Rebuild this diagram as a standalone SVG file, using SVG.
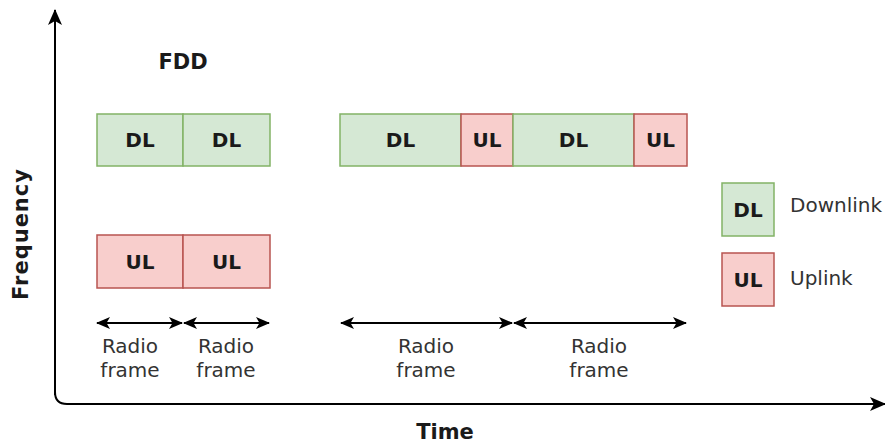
<svg xmlns="http://www.w3.org/2000/svg" width="885" height="445" viewBox="0 0 885 445">
  <style>
    .dl { fill: #d5e8d4; stroke: #82b366; stroke-width: 1.5; }
    .ul { fill: #f8cecc; stroke: #b85450; stroke-width: 1.5; }
    .lbl { font-family: "DejaVu Sans", Verdana, sans-serif; font-weight: bold; font-size: 20px; fill: #1a1a1a; text-anchor: middle; }
    .txt { font-family: "DejaVu Sans", Verdana, sans-serif; font-size: 20px; fill: #333333; }
    .mid { text-anchor: middle; }
    .title { font-family: "DejaVu Sans", Verdana, sans-serif; font-weight: bold; font-size: 21px; fill: #1a1a1a; text-anchor: middle; }
    .axis { fill: none; stroke: #000; stroke-width: 2; }
    .span { fill: none; stroke: #000; stroke-width: 2; marker-start: url(#head); marker-end: url(#head); }
  </style>
  <defs>
    <marker id="head" viewBox="0 0 14 12" refX="13" refY="6" markerWidth="14" markerHeight="12" markerUnits="userSpaceOnUse" orient="auto-start-reverse">
      <path d="M0,0 L14,6 L0,12 L3.5,6 Z" fill="#000"/>
    </marker>
    <marker id="axhead" viewBox="0 0 16 14" refX="15" refY="7" markerWidth="16" markerHeight="14" markerUnits="userSpaceOnUse" orient="auto">
      <path d="M0,0 L16,7 L0,14 L4,7 Z" fill="#000"/>
    </marker>
  </defs>

  <!-- axes -->
  <g id="axes">
    <path class="axis" d="M55,395 L55,10" marker-end="url(#axhead)"/>
    <path class="axis" d="M55,392 Q55,404 67,404 L885,404" marker-end="url(#axhead)"/>
    <text class="title" x="445" y="439">Time</text>
    <text class="title" transform="translate(28,234) rotate(-90)" letter-spacing="1">Frequency</text>
  </g>

  <text id="fdd-title" class="title" x="183" y="69">FDD</text>

  <!-- FDD: downlink carrier -->
  <g id="fdd-dl-1">
    <rect class="dl" x="97" y="114" width="86" height="52"/>
    <text class="lbl" x="140" y="147">DL</text>
  </g>
  <g id="fdd-dl-2">
    <rect class="dl" x="183" y="114" width="87" height="52"/>
    <text class="lbl" x="226.5" y="147">DL</text>
  </g>

  <!-- FDD: uplink carrier -->
  <g id="fdd-ul-1">
    <rect class="ul" x="97" y="235" width="86" height="53"/>
    <text class="lbl" x="140" y="268.5">UL</text>
  </g>
  <g id="fdd-ul-2">
    <rect class="ul" x="183" y="235" width="87" height="53"/>
    <text class="lbl" x="226.5" y="268.5">UL</text>
  </g>

  <!-- TDD: shared carrier -->
  <g id="tdd-dl-1">
    <rect class="dl" x="340" y="114" width="121" height="52"/>
    <text class="lbl" x="400.5" y="147">DL</text>
  </g>
  <g id="tdd-ul-1">
    <rect class="ul" x="461" y="114" width="52" height="52"/>
    <text class="lbl" x="487" y="147">UL</text>
  </g>
  <g id="tdd-dl-2">
    <rect class="dl" x="513" y="114" width="121" height="52"/>
    <text class="lbl" x="573.5" y="147">DL</text>
  </g>
  <g id="tdd-ul-2">
    <rect class="ul" x="634" y="114" width="53" height="52"/>
    <text class="lbl" x="660.5" y="147">UL</text>
  </g>

  <!-- legend -->
  <g id="legend-dl">
    <rect class="dl" x="722" y="183" width="52" height="53"/>
    <text class="lbl" x="748" y="216.5">DL</text>
    <text class="txt" x="790" y="212">Downlink</text>
  </g>
  <g id="legend-ul">
    <rect class="ul" x="722" y="253" width="52" height="53"/>
    <text class="lbl" x="748" y="286.5">UL</text>
    <text class="txt" x="790" y="285">Uplink</text>
  </g>

  <!-- radio frame spans -->
  <g id="connectors">
    <line class="span" x1="97" y1="323" x2="182" y2="323"/>
    <line class="span" x1="184" y1="323" x2="269" y2="323"/>
    <line class="span" x1="341" y1="323" x2="512" y2="323"/>
    <line class="span" x1="514" y1="323" x2="686" y2="323"/>
  </g>

  <g id="frame-labels">
    <text class="txt mid" x="130" y="353">Radio</text>
    <text class="txt mid" x="130" y="377">frame</text>
    <text class="txt mid" x="226" y="353">Radio</text>
    <text class="txt mid" x="226" y="377">frame</text>
    <text class="txt mid" x="426" y="353">Radio</text>
    <text class="txt mid" x="426" y="377">frame</text>
    <text class="txt mid" x="599" y="353">Radio</text>
    <text class="txt mid" x="599" y="377">frame</text>
  </g>
</svg>
